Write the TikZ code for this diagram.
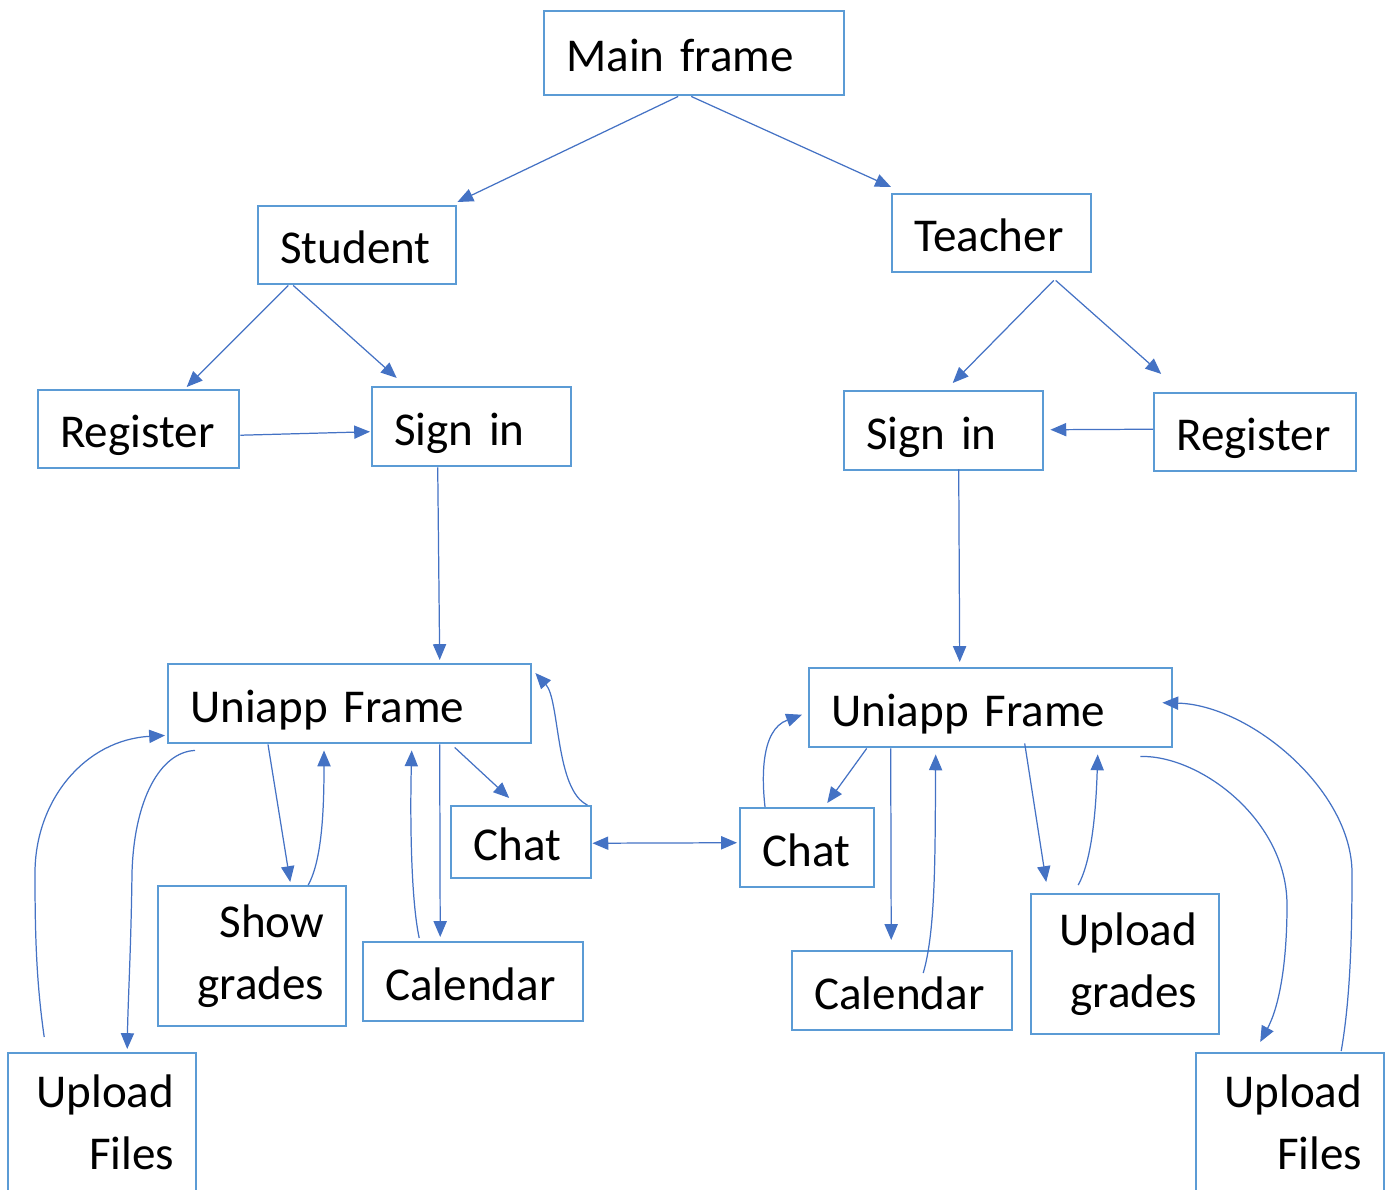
\documentclass[tikz,border=0pt]{standalone}
\usepackage{fontspec}
\setmainfont{Carlito}
\usepackage{tikz}
\usetikzlibrary{positioning,arrows.meta,calc}
\definecolor{boxcol}{HTML}{5B9BD5}
\definecolor{arrcol}{HTML}{4472C4}

\begin{document}
\begin{tikzpicture}[x=0.02cm,y=-0.02cm,
	font=\fontsize{26.8}{35}\selectfont,
	>={Triangle[length=9pt,width=7.5pt]},
	boxframe/.style={draw=boxcol,line width=1.4pt,anchor=north west,inner xsep=0.44cm},
	box/.style={boxframe,align=left,text height=20.9pt,text depth=0pt},
	rbox/.style={boxframe,align=right},
	arr/.style={draw=arrcol,line width=0.7pt}]
					\useasboundingbox (0,0) rectangle (1391,1189);
					\node[box,text width=5.12cm,minimum height=1.68cm] (main) at (543,10) {Main frame};
					\node[box,text width=3.08cm,minimum height=1.56cm] (stu) at (257,205) {Student};
					\node[box,text width=3.10cm,minimum height=1.56cm] (tea) at (891,193) {Teacher};
					\node[box,text width=3.14cm,minimum height=1.56cm] (regl) at (37,389) {Register};
					\node[box,text width=3.10cm,minimum height=1.58cm] (signl) at (371,386) {Sign in};
					\node[box,text width=3.10cm,minimum height=1.58cm] (signr) at (843,390) {Sign in};
					\node[box,text width=3.16cm,minimum height=1.56cm] (regr) at (1153,392) {Register};
					\node[box,text width=6.38cm,minimum height=1.58cm] (unil) at (167,663) {Uniapp Frame};
					\node[box,text width=6.38cm,minimum height=1.58cm] (unir) at (808,667) {Uniapp Frame};
					\node[box,text width=1.92cm,minimum height=1.44cm] (chatl) at (450,805) {Chat};
					\node[box,text width=1.80cm,minimum height=1.58cm] (chatr) at (739,807) {Chat};
					\node[rbox,text width=2.88cm,minimum height=2.80cm] (showgr) at (157,885) {Show\\grades};
					\node[box,text width=3.52cm,minimum height=1.58cm] (call) at (362,941) {Calendar};
					\node[box,text width=3.52cm,minimum height=1.58cm] (calr) at (791,950) {Calendar};
					\node[rbox,text width=2.88cm,minimum height=2.80cm] (upgr) at (1030,893) {Upload\\grades};
					\node[rbox,text width=2.88cm,inner ysep=0.44cm,text depth=2cm] (upfl) at (7,1052) {Upload\\Files};
					\node[rbox,text width=2.88cm,inner ysep=0.44cm,text depth=2cm] (upfr) at (1195,1052) {Upload\\Files};
					\draw[arr,->] ($(main.south)+(-16,0)$) -- ($(stu.north east)+(0,-3)$);
					\draw[arr,->] ($(main.south)+(-3,0)$) -- ($(tea.north west)+(0,-6)$);
					\draw[arr,->] ($(stu.south)+(-69,0)$) -- ($(regl.north)+(48,-2)$);
					\draw[arr,->] ($(stu.south)+(-64,0)$) -- ($(signl.north)+(-75,-8)$);
					\draw[arr,->] ($(tea.south)+(62,7)$) -- ($(signr.north)+(9,-7)$);
					\draw[arr,->] ($(tea.south)+(64,7)$) -- ($(regr.north)+(-94,-18)$);
					\draw[arr,->] ($(regl.east)+(0,6)$) -- ($(signl.west)+(-1,5)$);
					\draw[arr,->] ($(regr.west)+(0,-3)$) -- ($(signr.east)+(6,-1)$);
					\draw[arr,->] ($(signl.south)+(-34,0)$) -- ($(unil.north)+(90,-3)$);
					\draw[arr,->] ($(signr.south)+(15,-2)$) -- ($(unir.north)+(-31,-5)$);
					\draw[arr,<->] ($(chatl.east)+(0,1)$) -- ($(chatr.west)+(-2,-5)$);
					\draw[arr,->] ($(unil.south west)+(101,0)$) -- ($(showgr.north)+(38,-3)$);
					\draw[arr,->] ($(showgr.north)+(56,0)$) .. controls (322,860) and (324,810) .. ($(unil.south west)+(157,6)$);
					\draw[arr,->] ($(unil.south)+(90,0)$) -- ($(call.north)+(-33,-4)$);
					\draw[arr,->] ($(call.north)+(-54,-3)$) .. controls (411,900) and (410,820) .. ($(unil.south)+(62,6)$);
					\draw[arr,->] ($(unil.south)+(105,3)$) -- ($(chatl.north)+(-12,-7)$);
					\draw[arr,->] ($(chatl.north east)+(-5,0)$) .. controls (555,790) and (560,700) .. ($(unil.north east)+(3,10)$);
					\draw[arr,->] ($(upfl.north)+(-58,-15)$) .. controls (36,980) and (35,930) .. (35,873) .. controls (35,800) and (85,740) .. ($(unil.south west)+(-2,-9)$);
					\draw[arr,->] ($(unil.south west)+(28,6)$) .. controls (160,752) and (134,800) .. (132,873) .. controls (131,950) and (128,1000) .. ($(upfl.north)+(25,-3)$);
					\draw[arr,->] ($(chatr.north west)+(26,0)$) .. controls (762,780) and (760,730) .. ($(unir.west)+(-6,7)$);
					\draw[arr,->] ($(unir.south)+(-124,0)$) -- ($(chatr.north)+(20,-4)$);
					\draw[arr,->] ($(unir.south)+(-100,0)$) -- ($(calr.north)+(-11,-10)$);
					\draw[arr,->] ($(calr.north)+(21,23)$) .. controls (936,930) and (935,850) .. ($(unir.south)+(-55,6)$);
					\draw[arr,->] ($(unir.south)+(34,-5)$) -- ($(upgr.north)+(-79,-11)$);
					\draw[arr,->] ($(upgr.north)+(-47,-8)$) .. controls (1092,860) and (1096,810) .. ($(unir.south)+(107,6)$);
					\draw[arr,->] ($(unir.south east)+(-33,8)$) .. controls (1200,755) and (1287,820) .. (1287,905) .. controls (1287,960) and (1280,1005) .. ($(upfr.north)+(-30,-10)$);
					\draw[arr,->] ($(upfr.north)+(51,-1)$) .. controls (1350,1000) and (1352,940) .. (1352,873) .. controls (1352,790) and (1250,705) .. ($(unir.east)+(-11,-5)$);
\end{tikzpicture}
\end{document}
